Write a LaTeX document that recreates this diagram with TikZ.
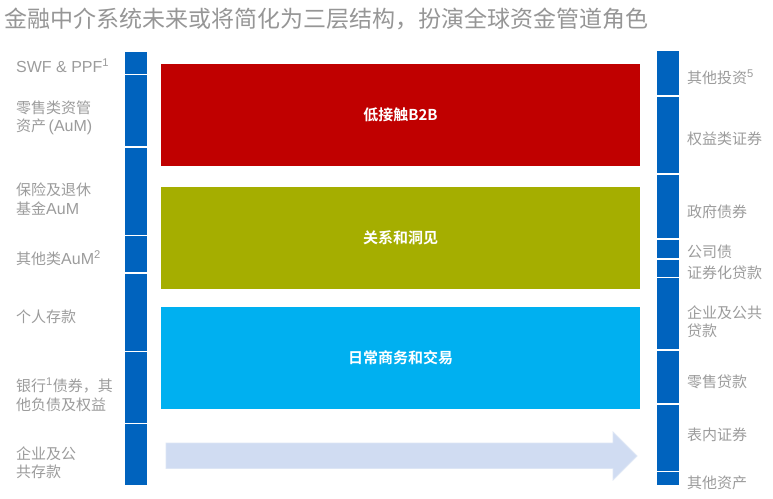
\documentclass[tikz,border=0pt]{standalone}
\usepackage{fontspec}
\setmainfont{Liberation Sans}
\newfontfamily\cjk{Noto Sans CJK SC}[BoldFont={Noto Sans CJK SC Bold}]
\definecolor{colblue}{HTML}{0063BE}
\definecolor{barred}{HTML}{C00000}
\definecolor{barolive}{HTML}{A5AE00}
\definecolor{barcyan}{HTML}{00B0F0}
\definecolor{arrowfill}{HTML}{D0DCF2}
\definecolor{arrowline}{HTML}{DDE6F5}
\definecolor{labgray}{HTML}{9C9C9C}
\definecolor{titlegray}{HTML}{969696}
\newcommand\lat[1]{{\rmfamily\fontsize{16}{18.5}\selectfont #1}}
\begin{document}
\begin{tikzpicture}[x=1pt,y=-1pt,
  lab/.style={anchor=west, inner sep=0pt, text=labgray, align=left,
    font=\fontsize{15}{18.5}\selectfont\cjk},
  bar/.style={anchor=north west, inner sep=0pt, outer sep=0pt, text=white,
    font=\fontsize{15}{18}\selectfont\cjk\bfseries},
  seg/.style={fill=colblue},
  ttl/.style={anchor=west, inner sep=0pt, text=titlegray,
    font=\fontsize{23}{26}\selectfont\cjk}]
\useasboundingbox (0,0) rectangle (773,498);
\fill[white] (0,0) rectangle (773,498);
% title
\node[ttl] (title) at (4,19) {金融中介系统未来或将简化为三层结构，扮演全球资金管道角色};
% left column segments
\fill[seg] (125,52) rectangle (147,73.5);
\fill[seg] (125,75) rectangle (147,146);
\fill[seg] (125,147.5) rectangle (147,234.5);
\fill[seg] (125,236) rectangle (147,272);
\fill[seg] (125,273.5) rectangle (147,350.5);
\fill[seg] (125,352) rectangle (147,422.5);
\fill[seg] (125,424) rectangle (147,485);
% right column segments
\fill[seg] (657,51) rectangle (679,95);
\fill[seg] (657,96.5) rectangle (679,173);
\fill[seg] (657,174.5) rectangle (679,238);
\fill[seg] (657,239.5) rectangle (679,258);
\fill[seg] (657,259.5) rectangle (679,276.5);
\fill[seg] (657,278) rectangle (679,349);
\fill[seg] (657,350.5) rectangle (679,403);
\fill[seg] (657,404.5) rectangle (679,470.5);
\fill[seg] (657,472) rectangle (679,485);
% bars
\node[bar, fill=barred, minimum width=479pt, minimum height=102pt] (b2b) at (161,64) {低接触B2B};
\node[bar, fill=barolive, minimum width=479pt, minimum height=102pt] (rel) at (161,187) {关系和洞见};
\node[bar, fill=barcyan, minimum width=479pt, minimum height=102pt] (daily) at (161,307) {日常商务和交易};
% arrow
\filldraw[fill=arrowfill, draw=arrowline, line width=0.8pt]
  (166,443) -- (613,443) -- (613,432) -- (637,456) -- (613,480) -- (613,468.5) -- (166,468.5) -- cycle;
% left labels
\node[lab] (l1) at (16,66) {\lat{SWF \& PPF\textsuperscript{1}}};
\node[lab] (l2) at (16,118) {零售类资管\\资产\,\lat{(AuM)}};
\node[lab] (l3) at (16,199) {保险及退休\\基金\lat{AuM}};
\node[lab] (l4) at (16,258) {其他类\lat{AuM\textsuperscript{2}}};
\node[lab] (l5) at (16,317) {个人存款};
\node[lab] (l6) at (16,394.5) {银行\lat{\textsuperscript{1}}债券，其\\他负债及权益};
\node[lab] (l7) at (16,462.5) {企业及公\\共存款};
% right labels
\node[lab] (r1) at (687,77) {其他投资\lat{\textsuperscript{5}}};
\node[lab] (r2) at (687,139) {权益类证券};
\node[lab] (r3) at (687,212) {政府债券};
\node[lab] (r4) at (687,252) {公司债};
\node[lab] (r5) at (687,273) {证券化贷款};
\node[lab] (r6) at (687,321.5) {企业及公共\\贷款};
\node[lab] (r7) at (687,382) {零售贷款};
\node[lab] (r8) at (687,435) {表内证券};
\node[lab] (r9) at (687,483) {其他资产};
\end{tikzpicture}
\end{document}
